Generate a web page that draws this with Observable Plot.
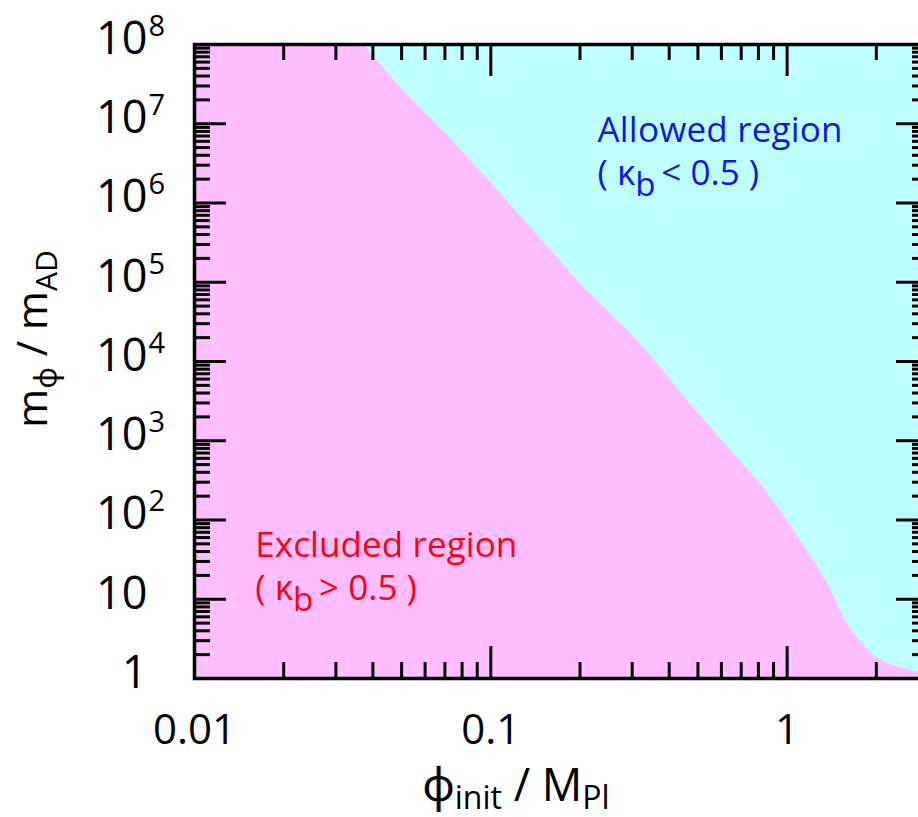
<!DOCTYPE html>
<html>
<head>
<meta charset="utf-8">
<script src="https://cdn.jsdelivr.net/npm/d3@7"></script>
<script src="https://cdn.jsdelivr.net/npm/@observablehq/plot@0.6"></script>
<style>
  html, body { margin: 0; padding: 0; background: white; overflow: hidden; }
</style>
</head>
<body>
<div id="chart"></div>
<script>
// Boundary between excluded (kappa_b > 0.5) and allowed region
const boundaryX = [0.01, 0.0372, 0.0484, 0.0566, 0.0714, 0.1021, 0.2056, 0.296, 0.346, 0.461, 0.644, 0.813, 1.00, 1.17, 1.37, 1.46, 1.55, 1.68, 1.91, 2.18, 2.47, 2.77, 3.0];
const boundaryY = [1e8, 1e8, 3.13e7, 1.70e7, 7.11e6, 1.66e6, 8.59e4, 2.26e4, 1.19e4, 3.22e3, 753, 289, 98.6, 41.2, 15.8, 9.64, 5.89, 3.70, 2.07, 1.55, 1.34, 1.19, 1.09];

const xMajor = [0.01, 0.1, 1];
const xMajorLabels = ["0.01", "0.1", "1"];
const xMinor = [0.02, 0.03, 0.04, 0.05, 0.06, 0.07, 0.08, 0.09, 0.2, 0.3, 0.4, 0.5, 0.6, 0.7, 0.8, 0.9, 2];
const yMajor = [1, 10, 1e2, 1e3, 1e4, 1e5, 1e6, 1e7, 1e8];
const yBase = ["1", "10", "10", "10", "10", "10", "10", "10", "10"];
const yExp = ["", "", "2", "3", "4", "5", "6", "7", "8"];
const yMinor = [0, 1, 2, 3, 4, 5, 6, 7].flatMap(k => [2, 3, 4, 5, 6, 7, 8, 9].map(m => m * Math.pow(10, k)));

const annotations = [
  {x: 0.23, y: 5.8e6, line1: "Allowed region", rel: "<", color: "#1414f0", len: 245},
  {x: 0.0161, y: 33.6, line1: "Excluded region", rel: ">", color: "#ff0010", len: 262}
];

const PINK = "#ffbeff", CYAN = "#beffff";
const W = 928, H = 817, ML = 194, MR = 0, MT = 44, MB = 139;
const innerW = W - ML - MR, innerH = H - MT - MB;
const FONT = "'Open Sans', 'Noto Sans', sans-serif";

const rows = boundaryX.map((x, i) => ({x, y: boundaryY[i]}));
const tickStyle = {stroke: "black", strokeWidth: 3};

const plot = Plot.plot({
  width: W, height: H,
  marginLeft: ML, marginRight: MR, marginTop: MT, marginBottom: MB,
  style: {maxWidth: "none", background: "white", fontFamily: FONT, overflow: "hidden"},
  x: {type: "log", domain: [0.01, 3], axis: null},
  y: {type: "log", domain: [1, 1e8], axis: null},
  marks: [
    Plot.frame({fill: CYAN, stroke: null}),
    Plot.areaY(rows, {x: "x", y1: 1, y2: "y", fill: PINK}),
    // x ticks (top & bottom, inward)
    Plot.ruleX(xMajor, {...tickStyle, insetBottom: innerH - 32}),
    Plot.ruleX(xMajor, {...tickStyle, insetTop: innerH - 32}),
    Plot.ruleX(xMinor, {...tickStyle, insetBottom: innerH - 16}),
    Plot.ruleX(xMinor, {...tickStyle, insetTop: innerH - 16}),
    // y ticks (left & right, inward)
    Plot.ruleY(yMajor, {...tickStyle, insetRight: innerW - 32}),
    Plot.ruleY(yMajor, {...tickStyle, insetLeft: innerW - 32}),
    Plot.ruleY(yMinor, {...tickStyle, insetRight: innerW - 16}),
    Plot.ruleY(yMinor, {...tickStyle, insetLeft: innerW - 16}),
    Plot.frame({stroke: "black", strokeWidth: 3.5}),
    // tick labels
    Plot.text(xMajor, {x: d => d, text: (d, i) => xMajorLabels[i], frameAnchor: "bottom", dy: 65, fontSize: 42, fill: "black"}),
    Plot.text(yMajor, {y: d => d, text: (d, i) => yBase[i], frameAnchor: "left", textAnchor: "end", dx: -47, dy: -5, fontSize: 45, fill: "black"}),
    Plot.text(yMajor, {y: d => d, text: (d, i) => yExp[i], frameAnchor: "left", textAnchor: "start", dx: -46, dy: -18, fontSize: 29, fill: "black"})
  ]
});

document.getElementById("chart").appendChild(plot);

const sx = plot.scale("x"), sy = plot.scale("y");
const svg = d3.select(plot);

function rich(parent, parts, size, subSize, shift) {
  const t = parent.append("text").attr("font-family", FONT).attr("font-size", size).attr("text-anchor", "start");
  let down = false;
  parts.forEach(p => {
    const ts = t.append("tspan").text(p.t);
    if (p.sub && !down) { ts.attr("dy", shift).attr("font-size", subSize); down = true; }
    else if (p.sub) { ts.attr("font-size", subSize); }
    else if (down) { ts.attr("dy", -shift); down = false; }
  });
  return t;
}

// x axis title
const xt = rich(svg.append("g").attr("transform", `translate(${sx.apply(0.122)},801)`),
  [{t: "\u03D5"}, {t: "init", sub: true}, {t: " / M"}, {t: "Pl", sub: true}], 45, 32, 8);
xt.attr("text-anchor", "middle").attr("fill", "black");

// y axis title
const yt = rich(svg.append("g").attr("transform", `translate(47,${sy.apply(1e4) - 22}) rotate(-90)`),
  [{t: "m"}, {t: "\u03D5", sub: true}, {t: " / m"}, {t: "AD", sub: true}], 42, 30, 10);
yt.attr("text-anchor", "middle").attr("fill", "black");

// annotations
annotations.forEach(a => {
  const g = svg.append("g").attr("transform", `translate(${sx.apply(a.x)},${sy.apply(a.y)})`);
  g.append("text").attr("font-family", FONT).attr("font-size", 35).attr("text-anchor", "start")
    .attr("fill", a.color).attr("textLength", a.len).text(a.line1);
  const l2 = rich(g.append("g").attr("transform", "translate(0,43)"),
    [{t: "( \u03BA"}, {t: "b", sub: true}, {t: "\u2009" + a.rel + " 0.5 )"}], 35, 33, 11);
  l2.attr("fill", a.color);
});
</script>
</body>
</html>
